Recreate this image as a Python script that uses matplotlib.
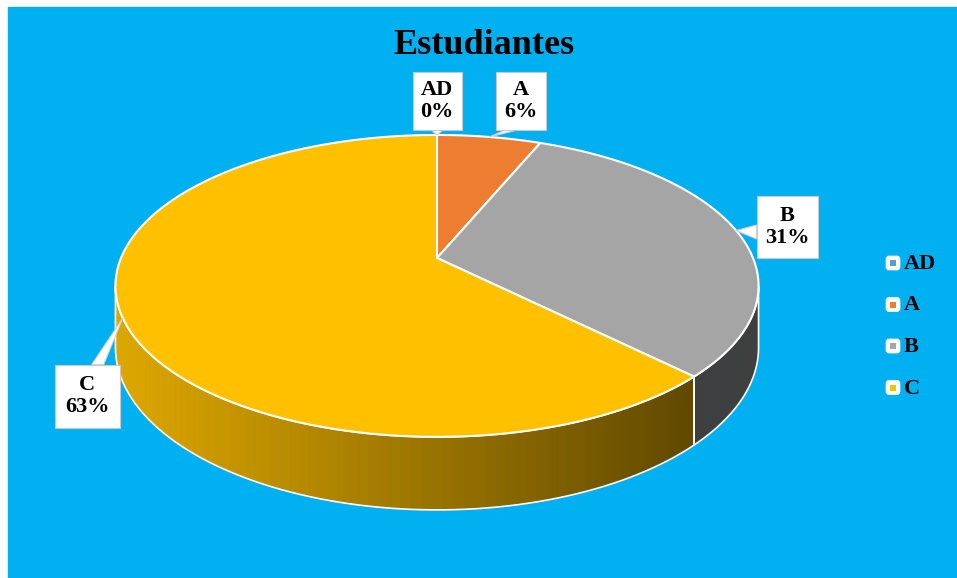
import numpy as np
import matplotlib.pyplot as plt
from matplotlib.patches import Polygon, Rectangle, FancyBboxPatch
from matplotlib.colors import to_rgb

categories = ['AD', 'A', 'B', 'C']
counts = [0, 1, 5, 10]
colors = ['#5B9BD5', '#ED7D31', '#A5A5A5', '#FFC000']
title = 'Estudiantes'

# pie geometry (pixels) - simple perspective view of a tilted disc
cx, cy = 437, 258
R, S, k, D = 316, 145.8, 0.185, 59.5

def proj(th, z=0.0):
    u, v = np.cos(th), np.sin(th)
    den = 1 + k * v
    return cx + R * u / den, cy - S * v / den + D * z / den

fig = plt.figure(figsize=(9.57, 5.78), dpi=100)
ax = fig.add_axes([0, 0, 1, 1])
ax.set_xlim(0, 957)
ax.set_ylim(578, 0)
ax.axis('off')
ax.add_patch(Rectangle((8, 7), 949, 571, color='#00B0F0', zorder=0))

total = sum(counts)
fracs = [c / total for c in counts]
starts, ends = [], []
a = np.pi / 2
for f in fracs:
    starts.append(a)
    a -= f * 2 * np.pi
    ends.append(a)

# side walls (front half only)
lo = np.pi + np.arcsin(k)
hi = 2 * np.pi - np.arcsin(k)
for s, e, col in zip(starts, ends, colors):
    if s == e:
        continue
    a0, a1 = e % (2 * np.pi), s % (2 * np.pi)
    if a1 <= a0:
        a1 += 2 * np.pi
    t0, t1 = max(a0, lo), min(a1, hi)
    if t1 <= t0:
        continue
    base = np.array(to_rgb(col))
    ths = np.linspace(t0, t1, 80)
    for i in range(len(ths) - 1):
        p1 = proj(ths[i]); p2 = proj(ths[i + 1])
        q2 = proj(ths[i + 1], 1); q1 = proj(ths[i], 1)
        xm = (p1[0] + p2[0]) / 2
        fct = np.interp(xm, [120, 690], [0.87, 0.38])
        c = base * fct
        ax.add_patch(Polygon([p1, p2, q2, q1], closed=True, facecolor=c,
                             edgecolor=c, lw=0.6, zorder=1))
    top = [proj(t) for t in ths]
    bot = [proj(t, 1) for t in ths[::-1]]
    ax.add_patch(Polygon(top + bot, closed=True, fill=False,
                         edgecolor='white', lw=1.2, zorder=2))

# top face
for s, e, col in zip(starts, ends, colors):
    if s == e:
        continue
    ths = np.linspace(s, e, 200)
    pts = [(cx, cy)] + [proj(t) for t in ths]
    ax.add_patch(Polygon(pts, closed=True, facecolor=col, edgecolor='white',
                         lw=1.5, zorder=3))

# data labels with callout pointers
label_xy = [(437, 101), (521, 101), (787, 227), (87, 396)]
box_wh = [(49, 58), (50, 58), (61, 62), (65, 63)]
for i, (cat, f) in enumerate(zip(categories, fracs)):
    mid = (starts[i] + ends[i]) / 2
    tip = proj(mid)
    bx, by = label_xy[i]
    w, h = box_wh[i]
    if abs(tip[1] - by) > h / 2 and abs(tip[0] - bx) < w / 2 + 20:
        ey = by + np.sign(tip[1] - by) * h / 2
        base = [(bx - 6 + (tip[0] - bx) * 0.3, ey), (bx + 6 + (tip[0] - bx) * 0.3, ey)]
    elif abs(tip[1] - by) > h / 2:
        ey = by + np.sign(tip[1] - by) * h / 2
        ex = bx + np.sign(tip[0] - bx) * w / 4
        base = [(ex - 9, ey), (ex + 9, ey)]
    else:
        ex = bx + np.sign(tip[0] - bx) * w / 2
        base = [(ex, by - 2), (ex, by + 12)]
    ax.add_patch(Polygon([base[0], tip, base[1]], closed=True, facecolor='white',
                         edgecolor='#D0D0D0', lw=0.8, zorder=4))
    ax.add_patch(Rectangle((bx - w / 2, by - h / 2), w, h, facecolor='white',
                           edgecolor='#C8C8C8', lw=0.8, zorder=5))
    pct = int(f * 100 + 0.5)
    ax.text(bx, by, '%s\n%d%%' % (cat, pct), ha='center', va='center',
            fontsize=16, fontweight='bold', family='Liberation Serif',
            linespacing=1.1, zorder=6)

ax.text(484, 46, title, ha='center', va='center', fontsize=26,
        fontweight='bold', family='Liberation Serif', zorder=6)

# legend
for i, (cat, col) in enumerate(zip(categories, colors)):
    ly = 263 + i * 41.5
    ax.add_patch(FancyBboxPatch((887, ly - 6), 12, 12, boxstyle='round,pad=1,rounding_size=3',
                                facecolor='white', edgecolor='white', lw=0.5, zorder=5))
    ax.add_patch(Rectangle((890, ly - 3), 6, 6, facecolor=col, edgecolor='none', zorder=6))
    ax.text(904, ly + 1, cat, ha='left', va='center', fontsize=16,
            fontweight='bold', family='Liberation Serif', zorder=6)

fig.savefig('out.png', dpi=100)
